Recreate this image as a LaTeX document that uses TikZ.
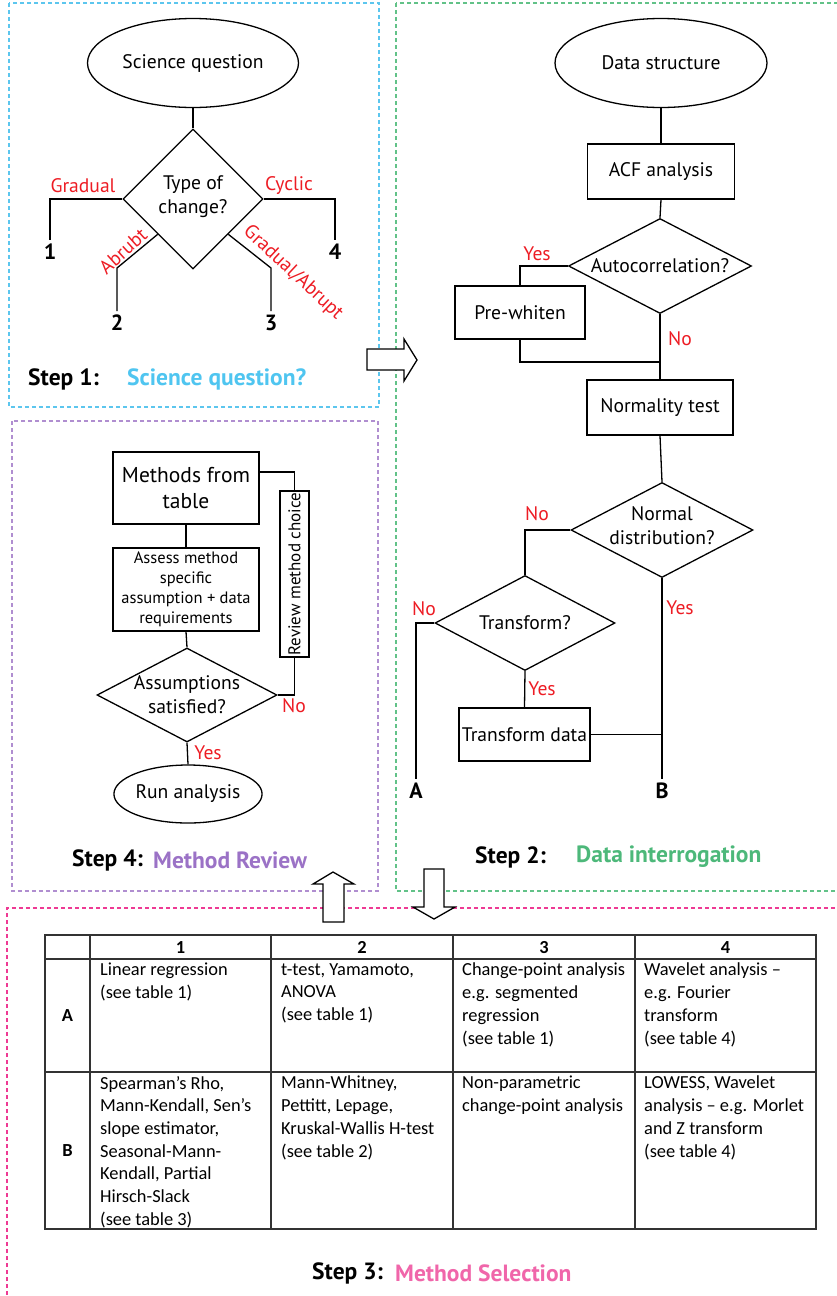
\documentclass[tikz,border=0pt]{standalone}
\usepackage{fontspec}
\setmainfont{PT Sans}
\newfontfamily\tablefont{Carlito}
\usetikzlibrary{shapes.geometric,calc}

\definecolor{lblred}{HTML}{ED1C24}
\definecolor{stepblue}{HTML}{4FC5F0}
\definecolor{stepgreen}{HTML}{4DB87A}
\definecolor{steppurple}{HTML}{9B72C6}
\definecolor{steppink}{HTML}{F066AA}
\definecolor{frameblue}{HTML}{5CC6EE}
\definecolor{framegreen}{HTML}{62C288}
\definecolor{framepurple}{HTML}{B08ED0}
\definecolor{framepink}{HTML}{EE3A94}
\definecolor{gridgray}{HTML}{333333}

\newcommand{\mainsz}{\fontsize{19.6}{23}\selectfont}
\newcommand{\bigsz}{\fontsize{21.5}{26}\selectfont}
\newcommand{\numsz}{\fontsize{22}{26}\selectfont}
\newcommand{\smallsz}{\fontsize{16.5}{20}\selectfont}
\newcommand{\stepsz}{\fontsize{23.5}{27}\selectfont\bfseries}
\newcommand{\cellsz}{\tablefont\fontsize{18.4}{22.7}\selectfont}

\begin{document}
\begin{tikzpicture}[x=1pt,y=-1pt,
  conn/.style={draw, line width=1.3pt},
  box/.style={draw, rectangle, line width=1.3pt, inner sep=0pt, align=center, font=\mainsz},
  ell/.style={draw, ellipse, line width=1.3pt, inner sep=0pt, font=\mainsz},
  dia/.style={draw, diamond, line width=1.3pt, inner sep=0pt},
  dtext/.style={align=center, font=\mainsz},
  lbl/.style={text=lblred, font=\mainsz, inner sep=0pt},
  num/.style={font=\numsz\bfseries, inner sep=4pt},
  frame/.style={line width=1.6pt, dash pattern=on 4pt off 3pt},
  blockarrow/.style={draw, fill=white, line width=1.3pt, line join=miter},
  cell/.style={anchor=north west, align=left, inner sep=0pt, font=\cellsz},
  head/.style={font=\tablefont\fontsize{18.4}{22}\selectfont\bfseries, inner sep=0pt},
  grid/.style={draw=gridgray, line width=1.3pt}
]
\useasboundingbox (0,0) rectangle (836,1296);

% ---- dashed frames of the four steps
\draw[frame, frameblue] (9,3) rectangle (379,407);
\draw[frame, framegreen] (396,3) rectangle (842,891);
\draw[frame, framepurple] (12,421) rectangle (378,891);
\draw[frame, framepink] (7,1302) -- (7,908) -- (842,908);

% ---- block arrows between the steps
\draw[blockarrow] (367,349) -- (404,349) -- (404,339) -- (417,360) -- (404,381) -- (404,370) -- (367,370) -- cycle;
\draw[blockarrow] (323,922) -- (323,884) -- (313,884) -- (333,872) -- (354,884) -- (344,884) -- (344,922) -- cycle;
\draw[blockarrow] (424,869) -- (444,869) -- (444,907) -- (455,907) -- (434,919) -- (413,907) -- (424,907) -- cycle;

% ================= Step 1
\node[ell, minimum width=211, minimum height=89] (sq) at (193,63) {Science question};
\node[dia, minimum width=140, minimum height=140,
      label={[dtext, yshift=2pt]center:Type of\\[1pt]change?}] (toc) at (193,199) {};
\node[num, anchor=north] (one) at (50,240) {1};
\node[num, anchor=north] (two) at (117,311) {2};
\node[num, anchor=north] (three) at (271,311) {3};
\node[num, anchor=north] (four) at (335,240) {4};
\coordinate (k2) at (117,268);
\coordinate (k3) at (271,268);
\draw[conn] (sq.south) -- (toc.north);
\draw[conn] (toc.west) -| (one.north);
\draw[conn] (toc.east) -| (four.north);
\draw[conn] (toc.south west) -- (k2) -- (two.north);
\draw[conn] (toc.south east) -- (k3) -- (three.north);
\node[lbl] (lgrad) at (83,186) {Gradual};
\node[lbl] (lcyc) at (289,186) {Cyclic};
\node[lbl, rotate=42] (labr) at (123,251) {Abrubt};
\node[lbl, rotate=-43] (lga) at (293,273) {Gradual/Abrupt};
\node[anchor=west, font=\stepsz, inner sep=0pt] (s1) at (28,379) {Step 1:};
\node[anchor=west, font=\stepsz, text=stepblue, inner sep=0pt] (s1t) at (127,379) {Science question?};

% ================= Step 2
\node[ell, minimum width=212, minimum height=89] (ds) at (661,63) {Data structure};
\node[box, minimum width=147, minimum height=55] (acf) at (661,171.5) {ACF analysis};
\node[dia, minimum width=183, minimum height=95,
      label={[dtext]center:Autocorrelation?}] (ac) at (660,266) {};
\node[box, minimum width=130, minimum height=53] (pw) at (520,312.5) {Pre-whiten};
\node[box, minimum width=146, minimum height=55] (nt) at (660,407.5) {Normality test};
\node[dia, minimum width=182, minimum height=95,
      label={[dtext, yshift=4pt]center:Normal\\[1pt]distribution?}] (nd) at (662,530) {};
\node[dia, minimum width=180, minimum height=95,
      label={[dtext]center:Transform?}] (tf) at (525,623) {};
\node[box, minimum width=131, minimum height=53] (td) at (524.5,734.5) {Transform data};
\node[num, anchor=north] (A) at (416,779) {A};
\node[num, anchor=north] (B) at (662,779) {B};
\coordinate (m1) at (660,362);
\draw[conn] (ds.south) -- (acf.north);
\draw[conn] (acf.south) -- (ac.north);
\draw[conn] (ac.west) -| (pw.north);
\draw[conn] (ac.south) -- (nt.north);
\draw[conn] (pw.south) |- (m1);
\draw[conn] (nt.south) -- (nd.north);
\draw[conn] (nd.west) -| (tf.north);
\draw[conn] (tf.west) -| (A.north);
\draw[conn] (tf.south) -- (td.north);
\draw[conn] (nd.south) -- (B.north);
\draw[conn] (td.east) -- (td.east -| B.north);
\node[lbl] (yes1) at (537,254) {Yes};
\node[lbl] (no1) at (680,339) {No};
\node[lbl] (no2) at (537,514) {No};
\node[lbl] (no3) at (424,609) {No};
\node[lbl] (yes2) at (542,689) {Yes};
\node[lbl] (yes3) at (680,608) {Yes};
\node[anchor=west, font=\stepsz, inner sep=0pt] (s2) at (475,857) {Step 2:};
\node[anchor=west, font=\stepsz, text=stepgreen, inner sep=0pt] (s2t) at (576,857) {Data interrogation};

% ================= Step 4
\node[box, font=\bigsz, minimum width=146, minimum height=72] (mt) at (186,488) {Methods from\\table};
\node[box, font=\smallsz, minimum width=146, minimum height=83] (am) at (186,589.5) {Assess method\\specific\\assumption + data\\requirements};
\node[dia, minimum width=180, minimum height=94,
      label={[dtext]center:Assumptions\\[1pt]satisfied?}] (as) at (187,695) {};
\node[ell, minimum width=139, minimum height=58] (ra) at (188,794) {Run analysis};
\node[box, rotate=90, font=\fontsize{17}{20}\selectfont, minimum width=166, minimum height=29] (rv) at (294.5,574) {Review method choice};
\draw[conn] (mt.south) -- (am.north);
\draw[conn] (am.south) -- (as.north);
\draw[conn] (as.south) -- (ra.north);
\draw[conn] (as.east) -| (rv.west);
\draw[conn] (rv.east) |- ($(mt.north east)!0.28!(mt.south east)$);
\node[lbl] (yes4) at (208,753) {Yes};
\node[lbl] (no4) at (294,706) {No};
\node[anchor=west, font=\stepsz, inner sep=0pt] (s4) at (72,860) {Step 4:};
\node[anchor=west, font=\stepsz, text=steppurple, inner sep=0pt] (s4t) at (153,860) {Method Review};

% ================= Step 3: method table
\draw[grid] (45,935) rectangle (816,1229);
\foreach \yy in {959,1072} \draw[grid] (45,\yy) -- (816,\yy);
\foreach \xx in {90,271,453,635} \draw[grid] (\xx,935) -- (\xx,1229);
\node[head] (h1) at (180.5,947.5) {1};
\node[head] (h2) at (362,947.5) {2};
\node[head] (h3) at (544,947.5) {3};
\node[head] (h4) at (725.5,947.5) {4};
\node[head] (ra1) at (67.5,1015.5) {A};
\node[head] (rb1) at (67.5,1150.5) {B};
\node[cell] (a1) at (100,963) {Linear regression\\(see table 1)};
\node[cell] (a2) at (281,963) {t-test, Yamamoto,\\ANOVA\\(see table 1)};
\node[cell] (a3) at (462,963) {Change-point analysis\\e.g. segmented\\regression\\(see table 1)};
\node[cell] (a4) at (644,963) {Wavelet analysis –\\e.g. Fourier\\transform\\(see table 4)};
\node[cell] (b1) at (100,1076) {Spearman’s Rho,\\Mann-Kendall, Sen’s\\slope estimator,\\Seasonal-Mann-\\Kendall, Partial\\Hirsch-Slack\\(see table 3)};
\node[cell] (b2) at (281,1076) {Mann-Whitney,\\Pettitt, Lepage,\\Kruskal-Wallis H-test\\(see table 2)};
\node[cell] (b3) at (462,1076) {Non-parametric\\change-point analysis};
\node[cell] (b4) at (644,1076) {LOWESS, Wavelet\\analysis – e.g. Morlet\\and Z transform\\(see table 4)};
\node[anchor=west, font=\stepsz, inner sep=0pt] (s3) at (312,1273) {Step 3:};
\node[anchor=west, font=\stepsz, text=steppink, inner sep=0pt] (s3t) at (395,1273) {Method Selection};
\end{tikzpicture}
\end{document}
